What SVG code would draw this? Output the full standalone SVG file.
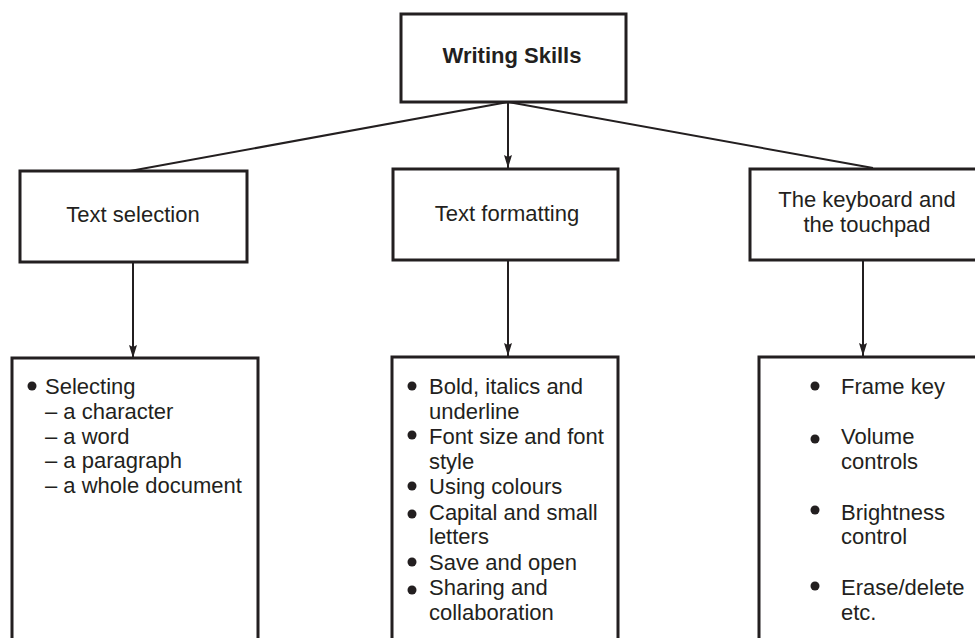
<svg xmlns="http://www.w3.org/2000/svg" width="975" height="638" viewBox="0 0 975 638">
<style>
.box{fill:#fff;stroke:#231f20;stroke-width:3}
.t{font-family:"Liberation Sans",Arial,sans-serif;font-size:22px;fill:#231f20}
.c{text-anchor:middle}
.b{font-weight:bold;font-size:22px}
.ln{stroke:#231f20;stroke-width:2;fill:none}
.dot{fill:#231f20}
</style>
<defs>
<marker id="ah" viewBox="0 0 13 8" refX="13" refY="4" markerWidth="13" markerHeight="8" markerUnits="userSpaceOnUse" orient="auto">
<path d="M0,0 L13,4 L0,8 L2,4 Z" fill="#231f20"/>
</marker>
</defs>
<rect width="975" height="638" fill="#fff"/>
<g id="connectors">
<line class="ln" x1="508" y1="102" x2="130" y2="171"/>
<line class="ln" x1="508" y1="102" x2="873" y2="168"/>
<line class="ln" x1="508" y1="102" x2="508" y2="168" marker-end="url(#ah)"/>
<line class="ln" x1="133" y1="262" x2="133" y2="358" marker-end="url(#ah)"/>
<line class="ln" x1="508" y1="260" x2="508" y2="356" marker-end="url(#ah)"/>
<line class="ln" x1="863" y1="260" x2="863" y2="356" marker-end="url(#ah)"/>
</g>
<g id="root">
<rect class="box" x="401" y="14" width="225" height="88"/>
<text class="t c b" x="512" y="63">Writing Skills</text>
</g>
<g id="text-selection">
<rect class="box" x="20" y="171" width="227" height="91"/>
<text class="t c" x="133" y="222">Text selection</text>
</g>
<g id="text-formatting">
<rect class="box" x="393" y="169" width="225" height="91"/>
<text class="t c" x="507" y="221">Text formatting</text>
</g>
<g id="keyboard">
<rect class="box" x="750" y="169" width="240" height="91"/>
<text class="t c" x="867" y="207">The keyboard and</text>
<text class="t c" x="867" y="232">the touchpad</text>
</g>
<g id="selection-list">
<path class="box" d="M12,640 V358 H258 V640"/>
<circle class="dot" cx="32" cy="386" r="4.5"/>
<text class="t" x="45" y="394">Selecting</text>
<text class="t" x="45" y="419">– a character</text>
<text class="t" x="45" y="444">– a word</text>
<text class="t" x="45" y="468">– a paragraph</text>
<text class="t" x="45" y="493">– a whole document</text>
</g>
<g id="formatting-list">
<path class="box" d="M392,640 V357 H618 V640"/>
<circle class="dot" cx="412" cy="386" r="4.5"/>
<circle class="dot" cx="412" cy="435" r="4.5"/>
<circle class="dot" cx="412" cy="486" r="4.5"/>
<circle class="dot" cx="412" cy="514" r="4.5"/>
<circle class="dot" cx="412" cy="562" r="4.5"/>
<circle class="dot" cx="412" cy="590" r="4.5"/>
<text class="t" x="429" y="394">Bold, italics and</text>
<text class="t" x="429" y="419">underline</text>
<text class="t" x="429" y="444">Font size and font</text>
<text class="t" x="429" y="469">style</text>
<text class="t" x="429" y="494">Using colours</text>
<text class="t" x="429" y="520">Capital and small</text>
<text class="t" x="429" y="544">letters</text>
<text class="t" x="429" y="570">Save and open</text>
<text class="t" x="429" y="595">Sharing and</text>
<text class="t" x="429" y="620">collaboration</text>
</g>
<g id="keyboard-list">
<path class="box" d="M759,640 V357 H990"/>
<circle class="dot" cx="815" cy="386" r="4.5"/>
<circle class="dot" cx="815" cy="439" r="4.5"/>
<circle class="dot" cx="815" cy="510" r="4.5"/>
<circle class="dot" cx="815" cy="586" r="4.5"/>
<text class="t" x="841" y="394">Frame key</text>
<text class="t" x="841" y="444">Volume</text>
<text class="t" x="841" y="469">controls</text>
<text class="t" x="841" y="520">Brightness</text>
<text class="t" x="841" y="544">control</text>
<text class="t" x="841" y="595">Erase/delete</text>
<text class="t" x="841" y="620">etc.</text>
</g>
</svg>
